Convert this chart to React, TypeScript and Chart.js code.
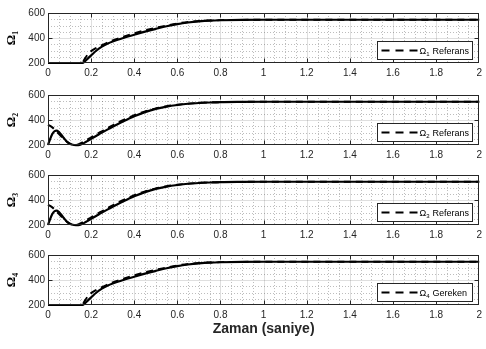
import React, { useEffect, useRef } from 'react';
import { Chart, registerables } from 'chart.js';

Chart.register(...registerables);

// ---------- data ----------
const time = [0, 0.01, 0.02, 0.03, 0.04, 0.05, 0.06, 0.07, 0.08, 0.09, 0.1, 0.11, 0.12, 0.13, 0.14, 0.15, 0.16, 0.17, 0.18, 0.19, 0.2, 0.225, 0.25, 0.275, 0.3, 0.35, 0.4, 0.45, 0.5, 0.55, 0.6, 0.65, 0.7, 0.75, 0.8, 0.9, 1.0, 1.2, 1.4, 1.6, 1.8, 2.0];

const omega1 = [200, 200, 200, 200, 200, 200, 200, 200, 200, 200, 200, 200, 200, 200, 200, 200, 201, 212, 228, 245, 261, 300, 331, 354, 372, 400, 426, 451, 473, 494, 511, 524, 533, 539, 542, 545, 546, 546, 546, 546, 546, 546];
const omega1Ref = [200, 200, 200, 200, 200, 200, 200, 200, 200, 200, 200, 200, 200, 200, 200, 200, 206, 232, 258, 279, 295, 321, 343, 362, 380, 410, 437, 461, 482, 500, 516, 528, 536, 540, 543, 545, 546, 546, 546, 546, 546, 546];

const omega2 = [200, 248, 288, 310, 315, 305, 286, 263, 241, 223, 211, 204, 200, 199, 199, 203, 210, 219, 229, 239, 249, 274, 299, 323, 346, 390, 430, 463, 489, 507, 520, 530, 536, 540, 543, 545, 546, 546, 546, 546, 546, 546];
const omega2Ref = [362, 353, 341, 325, 307, 289, 271, 253, 237, 223, 212, 205, 201, 200, 204, 212, 221, 231, 241, 251, 261, 286, 310, 334, 357, 400, 438, 469, 493, 510, 522, 531, 537, 541, 543, 545, 546, 546, 546, 546, 546, 546];

const omega3 = [200, 248, 288, 310, 315, 305, 286, 263, 241, 223, 211, 204, 200, 199, 199, 203, 210, 219, 229, 239, 249, 274, 299, 323, 346, 390, 430, 463, 489, 507, 520, 530, 536, 540, 543, 545, 546, 546, 546, 546, 546, 546];
const omega3Ref = [362, 353, 341, 325, 307, 289, 271, 253, 237, 223, 212, 205, 201, 200, 204, 212, 221, 231, 241, 251, 261, 286, 310, 334, 357, 400, 438, 469, 493, 510, 522, 531, 537, 541, 543, 545, 546, 546, 546, 546, 546, 546];

const omega4 = [200, 200, 200, 200, 200, 200, 200, 200, 200, 200, 200, 200, 200, 200, 200, 200, 201, 212, 228, 245, 261, 300, 331, 354, 372, 400, 426, 451, 473, 494, 511, 524, 533, 539, 542, 545, 546, 546, 546, 546, 546, 546];
const omega4Req = [200, 200, 200, 200, 200, 200, 200, 200, 200, 200, 200, 200, 200, 200, 200, 200, 206, 232, 258, 279, 295, 321, 343, 362, 380, 410, 437, 461, 482, 500, 516, 528, 536, 540, 543, 545, 546, 546, 546, 546, 546, 546];

const yAxisLabels = ['Ω₁', 'Ω₂', 'Ω₃', 'Ω₄'];
const legendSymbol = 'Ω';
const legendSubs = ['1', '2', '3', '4'];
const legendTexts = ['Referans', 'Referans', 'Referans', 'Gereken'];
const xAxisTitle = 'Zaman (saniye)';

const xMin = 0, xMax = 2, xMajorStep = 0.2, xMinorStep = 0.05;
const yMin = 200, yMax = 600, yMajorStep = 200, yMinorStep = 50;

const TICK_COLOR = '#262626';
const SANS = '"Liberation Sans", Arial, Helvetica, sans-serif';

function hLine(ctx: CanvasRenderingContext2D, x1: number, x2: number, y: number) {
  ctx.beginPath(); ctx.moveTo(x1, y); ctx.lineTo(x2, y); ctx.stroke();
}
function vLine(ctx: CanvasRenderingContext2D, x: number, y1: number, y2: number) {
  ctx.beginPath(); ctx.moveTo(x, y1); ctx.lineTo(x, y2); ctx.stroke();
}

function makePlugin(sub: string, text: string) {
  return {
    id: 'matlabAxes',
    beforeDatasetsDraw(chart: any) {
      const { ctx, chartArea: ca, scales } = chart;
      const xs = scales.x, ys = scales.y;
      ctx.save();
      ctx.fillStyle = '#ffffff';
      ctx.fillRect(ca.left, ca.top, ca.right - ca.left, ca.bottom - ca.top);
      ctx.strokeStyle = 'rgba(38,38,38,0.3)';
      ctx.lineWidth = 1;
      ctx.setLineDash([1, 2]);
      const nx = Math.round((xMax - xMin) / xMinorStep);
      const ratioX = Math.round(xMajorStep / xMinorStep);
      for (let i = 1; i < nx; i++) {
        if (i % ratioX === 0) continue;
        const px = Math.round(xs.getPixelForValue(xMin + i * xMinorStep)) + 0.5;
        vLine(ctx, px, ca.top, ca.bottom);
      }
      const ny = Math.round((yMax - yMin) / yMinorStep);
      const ratioY = Math.round(yMajorStep / yMinorStep);
      for (let i = 1; i < ny; i++) {
        if (i % ratioY === 0) continue;
        const py = Math.round(ys.getPixelForValue(yMin + i * yMinorStep)) + 0.5;
        hLine(ctx, ca.left, ca.right, py);
      }
      ctx.setLineDash([]);
      ctx.strokeStyle = 'rgba(38,38,38,0.15)';
      for (let v = xMin + xMajorStep; v < xMax - 1e-9; v += xMajorStep) {
        const px = Math.round(xs.getPixelForValue(v)) + 0.5;
        vLine(ctx, px, ca.top, ca.bottom);
      }
      for (let v = yMin + yMajorStep; v < yMax; v += yMajorStep) {
        const py = Math.round(ys.getPixelForValue(v)) + 0.5;
        hLine(ctx, ca.left, ca.right, py);
      }
      ctx.restore();
    },
    afterDatasetsDraw(chart: any) {
      const { ctx, chartArea: ca, scales } = chart;
      const xs = scales.x, ys = scales.y;
      ctx.save();
      const L = Math.round(ca.left) + 0.5, R = Math.round(ca.right) - 0.5;
      const T = Math.round(ca.top) + 0.5, B = Math.round(ca.bottom) - 0.5;
      ctx.strokeStyle = TICK_COLOR;
      ctx.lineWidth = 1;
      ctx.setLineDash([]);
      ctx.strokeRect(L, T, R - L, B - T);
      const tl = 4;
      for (let v = xMin + xMajorStep; v < xMax - 1e-9; v += xMajorStep) {
        const px = Math.round(xs.getPixelForValue(v)) + 0.5;
        vLine(ctx, px, T, T + tl);
        vLine(ctx, px, B, B - tl);
      }
      for (let v = yMin + yMajorStep; v < yMax; v += yMajorStep) {
        const py = Math.round(ys.getPixelForValue(v)) + 0.5;
        hLine(ctx, L, L + tl, py);
        hLine(ctx, R, R - tl, py);
      }
      const w = 95, h = 18;
      const bx = Math.round(ca.right - 7 - w) + 0.5;
      const by = Math.round(ca.bottom - 4 - h) + 0.5;
      ctx.fillStyle = '#ffffff';
      ctx.fillRect(bx, by, w, h);
      ctx.strokeStyle = TICK_COLOR;
      ctx.lineWidth = 1;
      ctx.strokeRect(bx, by, w, h);
      const cy = by + h / 2;
      ctx.strokeStyle = '#000000';
      ctx.lineWidth = 2;
      ctx.setLineDash([8, 6]);
      hLine(ctx, bx + 4, bx + 40, cy);
      ctx.setLineDash([]);
      ctx.fillStyle = '#000000';
      ctx.textBaseline = 'alphabetic';
      ctx.textAlign = 'left';
      ctx.font = '9px ' + SANS;
      let tx = bx + 42;
      const base = cy + 3.5;
      ctx.fillText(legendSymbol, tx, base);
      tx += ctx.measureText(legendSymbol).width;
      ctx.font = '6px ' + SANS;
      ctx.fillText(sub, tx, base + 2);
      tx += ctx.measureText(sub).width + 3;
      ctx.font = '9px ' + SANS;
      ctx.fillText(text, tx, base);
      ctx.restore();
    },
  };
}

type PanelProps = {
  actual: number[];
  reference: number[];
  yLabel: string;
  sub: string;
  text: string;
  top: number;
  xAxisH: number;
  showXTitle: boolean;
};

function Panel({ actual, reference, yLabel, sub, text, top, xAxisH, showXTitle }: PanelProps) {
  const ref = useRef<HTMLCanvasElement | null>(null);
  const padTop = 6;
  const plotH = 53;
  const height = padTop + plotH + xAxisH;
  useEffect(() => {
    if (!ref.current) return;
    const chart = new Chart(ref.current, {
      type: 'line',
      data: {
        datasets: [
          {
            data: time.map((t, i) => ({ x: t, y: reference[i] })),
            borderColor: '#000000',
            borderWidth: 2,
            borderDash: [7, 5],
            pointRadius: 0,
            fill: false,
            clip: 2,
            cubicInterpolationMode: 'monotone',
          },
          {
            data: time.map((t, i) => ({ x: t, y: actual[i] })),
            borderColor: '#000000',
            borderWidth: 2.2,
            pointRadius: 0,
            fill: false,
            clip: 2,
            cubicInterpolationMode: 'monotone',
          },
        ],
      },
      options: {
        animation: false,
        responsive: false,
        devicePixelRatio: 1,
        layout: { padding: { top: padTop, right: 4, left: 0, bottom: 0 } },
        plugins: { legend: { display: false }, tooltip: { enabled: false } },
        scales: {
          x: {
            type: 'linear',
            min: xMin,
            max: xMax,
            grid: { display: false, drawTicks: false },
            border: { display: false },
            ticks: {
              stepSize: xMajorStep,
              autoSkip: false,
              maxRotation: 0,
              padding: 4,
              color: TICK_COLOR,
              font: { family: SANS, size: 10 },
              callback: (v: any) => String(Number(Number(v).toFixed(1))),
            },
            title: {
              display: showXTitle,
              text: xAxisTitle,
              color: TICK_COLOR,
              font: { family: SANS, size: 14, weight: 'bold' },
              padding: { top: 0, bottom: 0 },
            },
            afterFit: (s: any) => { s.height = xAxisH; },
          },
          y: {
            type: 'linear',
            min: yMin,
            max: yMax,
            grid: { display: false, drawTicks: false },
            border: { display: false },
            ticks: {
              stepSize: yMajorStep,
              padding: 3,
              color: TICK_COLOR,
              font: { family: SANS, size: 10 },
            },
            title: {
              display: true,
              text: yLabel,
              color: '#000000',
              font: { family: '"Liberation Serif", "DejaVu Serif", serif', size: 13, weight: 'bold' },
              padding: { top: 4, bottom: 0 },
            },
            afterFit: (s: any) => { s.width = 48; },
          },
        },
      } as any,
      plugins: [makePlugin(sub, text)],
    });
    return () => chart.destroy();
  }, []);
  return (
    <canvas
      ref={ref}
      width={486}
      height={height}
      style={{ position: 'absolute', left: 0, top, width: 486, height, display: 'block' }}
    />
  );
}

export default function App() {
  const series = [
    { actual: omega1, reference: omega1Ref, top: 4 },
    { actual: omega2, reference: omega2Ref, top: 86 },
    { actual: omega3, reference: omega3Ref, top: 166 },
    { actual: omega4, reference: omega4Req, top: 246 },
  ];
  return (
    <div style={{ position: 'absolute', left: 0, top: 0, width: 486, height: 349, background: '#ffffff', overflow: 'hidden' }}>
      {series.map((s, i) => (
        <Panel
          key={i}
          actual={s.actual}
          reference={s.reference}
          yLabel={yAxisLabels[i]}
          sub={legendSubs[i]}
          text={legendTexts[i]}
          top={s.top}
          xAxisH={i === 3 ? 33 : 20}
          showXTitle={i === 3}
        />
      ))}
    </div>
  );
}
